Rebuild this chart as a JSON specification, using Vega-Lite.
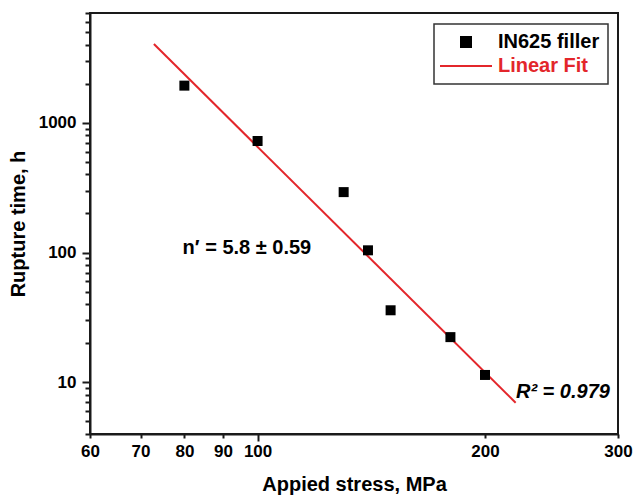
{
  "$schema": "https://vega.github.io/schema/vega-lite/v6.json",
  "width": 528,
  "height": 421,
  "autosize": "none",
  "padding": {"left": 90, "top": 13, "right": 16, "bottom": 63},
  "background": "white",
  "config": {
    "font": "Liberation Sans",
    "view": {"stroke": "#1a1a1a", "strokeWidth": 2},
    "axis": {
      "grid": false,
      "domainColor": "#1a1a1a",
      "domainWidth": 2,
      "tickColor": "#1a1a1a",
      "tickWidth": 2,
      "labelFont": "Liberation Sans",
      "labelFontSize": 17,
      "labelFontWeight": "bold",
      "labelColor": "black",
      "labelFlush": false,
      "labelOverlap": false,
      "titleFont": "Liberation Sans",
      "titleFontSize": 20,
      "titleFontWeight": "bold",
      "titleColor": "black"
    },
    "legend": {"strokeWidth": 1.5}
  },
  "datasets": {
    "points": [
      {"stress": 80, "time": 1930, "series": "IN625 filler"},
      {"stress": 100, "time": 723, "series": "IN625 filler"},
      {"stress": 130, "time": 292, "series": "IN625 filler"},
      {"stress": 140, "time": 104, "series": "IN625 filler"},
      {"stress": 150, "time": 35.9, "series": "IN625 filler"},
      {"stress": 180, "time": 22.3, "series": "IN625 filler"},
      {"stress": 200, "time": 11.4, "series": "IN625 filler"}
    ],
    "fit": [
      {"stress": 72.9, "time": 4037, "series": "Linear Fit"},
      {"stress": 219.6, "time": 6.97, "series": "Linear Fit"}
    ],
    "note1": [{"stress": 96.8, "time": 108.7, "label": "n′ = 5.8 ± 0.59"}],
    "note2": [{"stress": 219.8, "time": 8.39, "label": "R² = 0.979"}]
  },
  "layer": [
    {
      "data": {"name": "fit"},
      "mark": {"type": "line", "strokeWidth": 2},
      "encoding": {
        "x": {
          "field": "stress",
          "type": "quantitative",
          "scale": {"type": "log", "domain": [60, 300], "nice": false, "zero": false},
          "axis": {
            "title": "Appied stress, MPa",
            "values": [60, 70, 80, 90, 100, 200, 300],
            "format": "d",
            "labelPadding": {"condition": {"test": "datum.value == 100", "value": 2}, "value": 5},
            "titlePadding": 15,
            "tickSize": {"condition": {"test": "datum.value == 100", "value": 7}, "value": 4}
          }
        },
        "y": {
          "field": "time",
          "type": "quantitative",
          "scale": {"type": "log", "domain": [4, 7000], "nice": false, "zero": false},
          "axis": {
            "title": "Rupture time, h",
            "values": [4, 5, 6, 7, 8, 9, 10, 20, 30, 40, 50, 60, 70, 80, 90, 100, 200, 300, 400, 500, 600, 700, 800, 900, 1000, 2000, 3000, 4000, 5000, 6000, 7000],
            "format": "d",
            "labelExpr": "(datum.value == 10 || datum.value == 100 || datum.value == 1000) ? datum.label : ''",
            "labelPadding": 6,
            "titlePadding": 10,
            "tickSize": {"condition": {"test": "datum.value == 10 || datum.value == 100 || datum.value == 1000", "value": 8}, "value": 5}
          }
        },
        "color": {
          "field": "series",
          "type": "nominal",
          "scale": {"domain": ["IN625 filler", "Linear Fit"], "range": ["black", "#e3262b"]},
          "legend": {
            "title": null,
            "orient": "none",
            "legendX": 344,
            "legendY": 11,
            "padding": 8,
            "rowPadding": 4,
            "strokeColor": "#333333",
            "labelFont": "Liberation Sans",
            "labelFontSize": 20,
            "labelFontWeight": "bold",
            "labelLimit": 300,
            "symbolSize": 100,
            "symbolOffset": 14,
            "labelOffset": 22,
            "encode": {
              "symbols": {
                "update": {
                  "shape": {"signal": "datum.value == 'Linear Fit' ? 'M-5.2,0H5.2' : 'square'"},
                  "fill": {"signal": "datum.value == 'Linear Fit' ? 'transparent' : 'black'"},
                  "stroke": {"signal": "datum.value == 'Linear Fit' ? '#e3262b' : 'transparent'"},
                  "strokeWidth": {"value": 2},
                  "opacity": {"value": 1}
                }
              },
              "labels": {
                "update": {
                  "fill": {"signal": "datum.value == 'Linear Fit' ? '#e3262b' : 'black'"}
                }
              }
            }
          }
        }
      }
    },
    {
      "data": {"name": "points"},
      "mark": {"type": "point", "shape": "square", "filled": true, "size": 100, "opacity": 1},
      "encoding": {
        "x": {"field": "stress", "type": "quantitative"},
        "y": {"field": "time", "type": "quantitative"},
        "color": {"field": "series", "type": "nominal"}
      }
    },
    {
      "data": {"name": "note1"},
      "mark": {"type": "text", "font": "Liberation Sans", "fontSize": 20, "fontWeight": "bold", "align": "center", "baseline": "middle", "color": "black"},
      "encoding": {
        "x": {"field": "stress", "type": "quantitative"},
        "y": {"field": "time", "type": "quantitative"},
        "text": {"field": "label"}
      }
    },
    {
      "data": {"name": "note2"},
      "mark": {"type": "text", "font": "Liberation Sans", "fontSize": 20, "fontWeight": "bold", "fontStyle": "italic", "align": "left", "baseline": "middle", "color": "black"},
      "encoding": {
        "x": {"field": "stress", "type": "quantitative"},
        "y": {"field": "time", "type": "quantitative"},
        "text": {"field": "label"}
      }
    }
  ]
}
